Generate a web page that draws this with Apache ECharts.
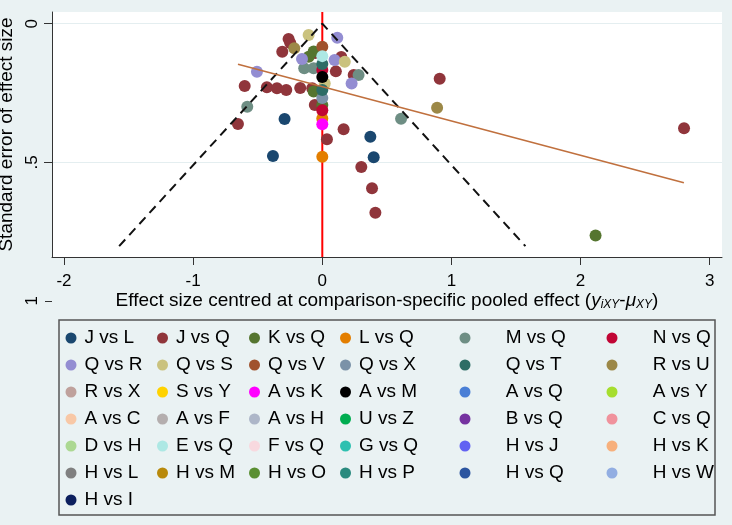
<!DOCTYPE html>
<html lang="en">
<head>
    <meta charset="UTF-8">
    <title>Comparison-adjusted funnel plot</title>
    <script src="https://cdn.jsdelivr.net/npm/echarts@6/dist/echarts.min.js"></script>
    <style>
        body { margin: 0; background: #eaf2f3; }
        #main { width: 732px; height: 525px; }
    </style>
</head>
<body>
    <div id="main"></div>
    <script>
        // legend order (Stata draws them row by row, 6 columns)
        var comparisons = [
            'J vs L', 'J vs Q', 'K vs Q', 'L vs Q', 'M vs Q', 'N vs Q',
            'Q vs R', 'Q vs S', 'Q vs V', 'Q vs X', 'Q vs T', 'R vs U',
            'R vs X', 'S vs Y', 'A vs K', 'A vs M', 'A vs Q', 'A vs Y',
            'A vs C', 'A vs F', 'A vs H', 'U vs Z', 'B vs Q', 'C vs Q',
            'D vs H', 'E vs Q', 'F vs Q', 'G vs Q', 'H vs J', 'H vs K',
            'H vs L', 'H vs M', 'H vs O', 'H vs P', 'H vs Q', 'H vs W',
            'H vs I'
        ];
        var colours = [
            '#1a476f', '#90353b', '#55752f', '#e37e00', '#6e8e84', '#c10534',
            '#938dd2', '#cac27e', '#a0522d', '#7b92a8', '#2d6d66', '#9c8847',
            '#bfa19c', '#ffd200', '#ff00ff', '#000000', '#4a7fd6', '#a6de2e',
            '#f8c8a6', '#b4aeae', '#adb6c8', '#00ad50', '#7532a0', '#f0929c',
            '#acd892', '#ade8e4', '#f8d9df', '#2ec0b0', '#6262f2', '#f7b07c',
            '#808080', '#b8890b', '#5a8f32', '#2a8a7e', '#2c55a0', '#92aee2',
            '#0c1f5e'
        ];

        // study points: comparison, centred effect size, standard error
        var ptGroup = [
            'J vs Q', 'J vs Q', 'J vs Q', 'J vs Q', 'J vs Q', 'J vs Q', 'J vs Q', 'J vs Q',
            'J vs Q', 'J vs Q', 'J vs Q', 'J vs Q', 'J vs Q', 'J vs Q', 'J vs Q', 'J vs Q',
            'J vs Q', 'J vs Q', 'J vs Q', 'J vs Q', 'J vs Q', 'J vs Q',
            'J vs L', 'J vs L', 'J vs L', 'J vs L',
            'K vs Q', 'K vs Q', 'K vs Q', 'K vs Q', 'K vs Q',
            'L vs Q', 'L vs Q',
            'M vs Q', 'M vs Q', 'M vs Q', 'M vs Q', 'M vs Q',
            'N vs Q', 'N vs Q',
            'Q vs R', 'Q vs R', 'Q vs R', 'Q vs R', 'Q vs R',
            'Q vs S', 'Q vs S', 'Q vs S',
            'Q vs V', 'Q vs X', 'Q vs T', 'Q vs T',
            'R vs U', 'R vs U',
            'A vs K', 'A vs M', 'E vs Q'
        ];
        var ptEffect = [
            -0.261, -0.248, -0.310, -0.054, 0.147, 0.105, 0.243, -0.601,
            -0.429, -0.351, -0.279, -0.171, -0.078, -0.058, -0.653, 0.165,
            0.036, 0.302, 0.385, 0.411, 0.909, 2.801,
            -0.292, -0.382, 0.372, 0.398,
            -0.067, -0.105, -0.067, 0, 2.116,
            0, 0,
            -0.581, -0.140, -0.067, 0.281, 0.610,
            0, 0,
            0.116, -0.157, 0.095, -0.506, 0.227,
            -0.106, 0.174, 0.019,
            0, 0, 0, 0,
            -0.217, 0.889,
            0, 0, 0
        ];
        var ptSE = [
            0.055, 0.070, 0.101, 0.106, 0.120, 0.172, 0.185, 0.225,
            0.229, 0.233, 0.239, 0.232, 0.233, 0.293, 0.362, 0.381,
            0.417, 0.517, 0.594, 0.682, 0.199, 0.377,
            0.344, 0.477, 0.408, 0.482,
            0.100, 0.119, 0.245, 0.293, 0.764,
            0.342, 0.480,
            0.300, 0.161, 0.161, 0.185, 0.343,
            0.167, 0.312,
            0.051, 0.127, 0.131, 0.173, 0.216,
            0.041, 0.137, 0.216,
            0.083, 0.268, 0.145, 0.239,
            0.089, 0.303,
            0.363, 0.192, 0.117
        ];

        // pseudo 95% limits and fitted line
        var funnelX = [-1.573, 0, 1.573];
        var funnelSE = [0.8025, 0, 0.8025];
        var fitX = [-0.653, 2.80];
        var fitSE = [0.1466, 0.574];
        var nullEffect = 0;

        var xTicks = [-2, -1, 0, 1, 2, 3];
        var yTicks = [0, 0.5];
        var yOuterTicks = [1];
        var xMin = -2.093, xMax = 3.095;
        var yMin = -0.0422, yMax = 0.8417;

        var font = 'Liberation Sans, Arial, sans-serif';
        var chart = echarts.init(document.getElementById('main'));

        var scatterSeries = comparisons.map(function (name, k) {
            var pts = [];
            ptGroup.forEach(function (g, i) {
                if (g === name) pts.push([ptEffect[i], ptSE[i]]);
            });
            return {
                name: name, type: 'scatter', xAxisIndex: 0, yAxisIndex: 0,
                data: pts, symbol: 'circle', symbolSize: 12, z: 3,
                itemStyle: { color: colours[k], opacity: 1 },
                emphasis: { disabled: true }
            };
        });

        var lineSeries = [
            {
                type: 'line', data: [[nullEffect, yMin], [nullEffect, yMax]],
                symbol: 'none', z: 2, silent: true,
                lineStyle: { color: '#ff0000', width: 2 }
            },
            {
                type: 'line', data: funnelX.map(function (x, i) { return [x, funnelSE[i]]; }),
                symbol: 'none', z: 4, silent: true,
                lineStyle: { color: '#111', width: 2, type: [9, 6] }
            },
            {
                type: 'line', data: fitX.map(function (x, i) { return [x, fitSE[i]]; }),
                symbol: 'none', z: 4, silent: true,
                lineStyle: { color: '#c0703e', width: 1.6 }
            }
        ];

        // legend laid out in 6 columns
        var colLeft = [65.5, 157, 249, 340, 459.5, 606.5];
        var colIconW = [17, 17, 17, 17, 71.4, 71.4];
        var legends = colLeft.map(function (left, c) {
            return {
                orient: 'vertical', left: left, top: 328, padding: 0,
                itemGap: 7, itemWidth: colIconW[c], itemHeight: 11,
                icon: 'circle', selectedMode: false,
                data: comparisons.filter(function (_, i) { return i % 6 === c; }),
                textStyle: { fontSize: 19, color: '#000', lineHeight: 20, fontFamily: font }
            };
        });

        var option = {
            backgroundColor: '#eaf2f3',
            animation: false,
            textStyle: { fontFamily: font },
            graphic: [{
                type: 'rect', z: -1,
                shape: { x: 59, y: 320, width: 656, height: 195 },
                style: { fill: 'none', stroke: '#555', lineWidth: 1.5 }
            }],
            legend: legends,
            grid: [
                { left: 52, top: 12, width: 670, height: 245, show: true, backgroundColor: '#fff', borderWidth: 0, outerBoundsMode: 'none', containLabel: false },
                { left: 52, top: 12, width: 670, height: 294.4, show: false, outerBoundsMode: 'none', containLabel: false }
            ],
            xAxis: [
                {
                    gridIndex: 0, type: 'value', min: xMin, max: xMax,
                    name: 'Effect size centred at comparison-specific pooled effect ({i|y}{sub|iXY}-{i|\u03bc}{sub|XY})',
                    nameLocation: 'middle', nameGap: 34,
                    nameTextStyle: {
                        fontSize: 19, color: '#000', fontFamily: font,
                        rich: {
                            i: { fontSize: 19, fontStyle: 'italic', color: '#000', fontFamily: font },
                            sub: { fontSize: 12, fontStyle: 'italic', color: '#000', fontFamily: font, padding: [8, 0, 0, 0] }
                        }
                    },
                    axisLine: { show: true, onZero: false, lineStyle: { color: '#333', width: 1 } },
                    axisTick: { show: true, customValues: xTicks, length: 8, lineStyle: { color: '#333' } },
                    axisLabel: { customValues: xTicks, fontSize: 17, color: '#000', margin: 16, fontFamily: font },
                    splitLine: { show: false }
                },
                { gridIndex: 1, type: 'value', min: xMin, max: xMax, show: false }
            ],
            yAxis: [
                {
                    gridIndex: 0, type: 'value', inverse: true, min: yMin, max: yMax,
                    name: 'Standard error of effect size', nameLocation: 'middle', nameGap: 4,
                    nameTextStyle: { fontSize: 19, color: '#000', fontFamily: font },
                    axisLine: { show: true, onZero: false, lineStyle: { color: '#333', width: 1 } },
                    axisTick: { show: true, customValues: yTicks, length: 8, lineStyle: { color: '#333' } },
                    axisLabel: {
                        customValues: yTicks, rotate: 90, fontSize: 17, color: '#000', margin: 11, fontFamily: font,
                        formatter: function (v) { return v === 0 ? '0' : String(v).replace(/^0/, ''); }
                    },
                    splitLine: { show: true, customValues: yTicks, lineStyle: { color: '#e4eef0', width: 1 } }
                },
                {
                    // Stata puts the "1" label below the plot region
                    gridIndex: 1, type: 'value', inverse: true, min: yMin, max: 1.02,
                    axisLine: { show: true, onZero: false, lineStyle: { color: 'rgba(0,0,0,0)', width: 1 } },
                    axisTick: { show: true, customValues: yOuterTicks, length: 7, lineStyle: { color: '#333' } },
                    axisLabel: { customValues: yOuterTicks, rotate: 90, fontSize: 17, color: '#000', margin: 11, fontFamily: font },
                    splitLine: { show: false }
                }
            ],
            series: lineSeries.concat(scatterSeries)
        };

        chart.setOption(option);
    </script>
</body>
</html>
